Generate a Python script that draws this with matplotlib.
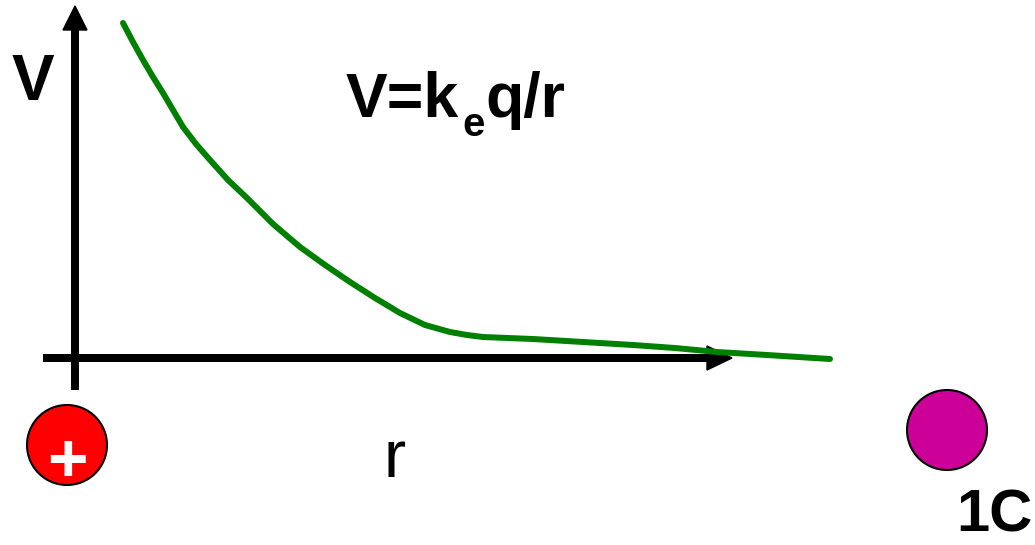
import matplotlib
matplotlib.use("Agg")
import matplotlib.pyplot as plt
from matplotlib.patches import Circle, Polygon

plt.rcParams['font.family'] = ['Liberation Sans', 'DejaVu Sans']

# Potential curve (r, V) in arbitrary units
r_vals = [48, 58, 68, 78, 88, 98, 108, 121, 135, 153, 172, 198, 225, 250, 275, 300,
          325, 350, 375, 392, 408, 458, 508, 558, 600, 642, 692, 755]
v_vals = [335, 316, 298, 281, 265, 248, 231, 214, 198, 178, 160, 134, 111, 93, 76, 60,
          45, 33, 26, 23, 21, 19, 16, 13, 10, 6, 3, -1]

formula_parts = ['V=k', 'e', 'q/r']
y_label = 'V'
x_label = 'r'
charge_label = '1C'
plus_label = '+'

fig = plt.figure(figsize=(10.35, 5.45), dpi=100)
ax = fig.add_axes([0, 0, 1, 1])
ax.set_xlim(-75, 960)
ax.set_ylim(-187, 358)
ax.axis('off')

def P(px, py):
    return (px - 75, 358 - py)

lw_axis = 8 * 72 / 100
# vertical axis
x0, y0 = P(75, 390)
x1, y1 = P(75, 28)
ax.plot([x0, x1], [y0, y1], color='black', lw=lw_axis, solid_capstyle='butt', zorder=2)
ax.add_patch(Polygon([P(63, 30), P(87, 30), P(75, 6)], closed=True, color='black', zorder=2))
# horizontal axis
x0, y0 = P(43, 358)
x1, y1 = P(709, 358)
ax.plot([x0, x1], [y0, y1], color='black', lw=lw_axis, solid_capstyle='butt', zorder=2)
ax.add_patch(Polygon([P(707, 346), P(707, 370), P(732, 358)], closed=True, color='black', zorder=2))

# curve
ax.plot(r_vals, v_vals, color='#008000', lw=6 * 72 / 100, solid_capstyle='round',
        solid_joinstyle='round', zorder=3)

# labels
ax.text(*P(33, 100), y_label, fontsize=46, fontweight='bold', ha='center', va='baseline')

t1 = ax.text(*P(346, 117), formula_parts[0], fontsize=45, fontweight='bold',
             ha='left', va='baseline')
t2 = ax.annotate(formula_parts[1], xy=(1, 0), xycoords=t1, xytext=(2, -4.5),
                 textcoords='offset points', fontsize=29, fontweight='bold',
                 ha='left', va='baseline')
t3 = ax.annotate(formula_parts[2], xy=(1, 0), xycoords=(t2, t1), xytext=(1, 0),
                 textcoords='offset points', fontsize=45, fontweight='bold',
                 ha='left', va='bottom')

ax.text(*P(395, 477), x_label, fontsize=48, ha='center', va='baseline')

# charges
ax.add_patch(Circle(P(67, 445), 40, facecolor='#FF0000', edgecolor='black', lw=1.5, zorder=4))
ax.text(*P(67, 463), plus_label, fontsize=50, fontweight='bold', color='white',
        ha='center', va='center', zorder=5)
ax.add_patch(Circle(P(947, 430), 40, facecolor='#CC0099', edgecolor='black', lw=1.5, zorder=4))
ax.text(*P(1032, 544), charge_label, fontsize=43, fontweight='bold',
        ha='right', va='bottom')

fig.savefig('out.png', dpi=100)
